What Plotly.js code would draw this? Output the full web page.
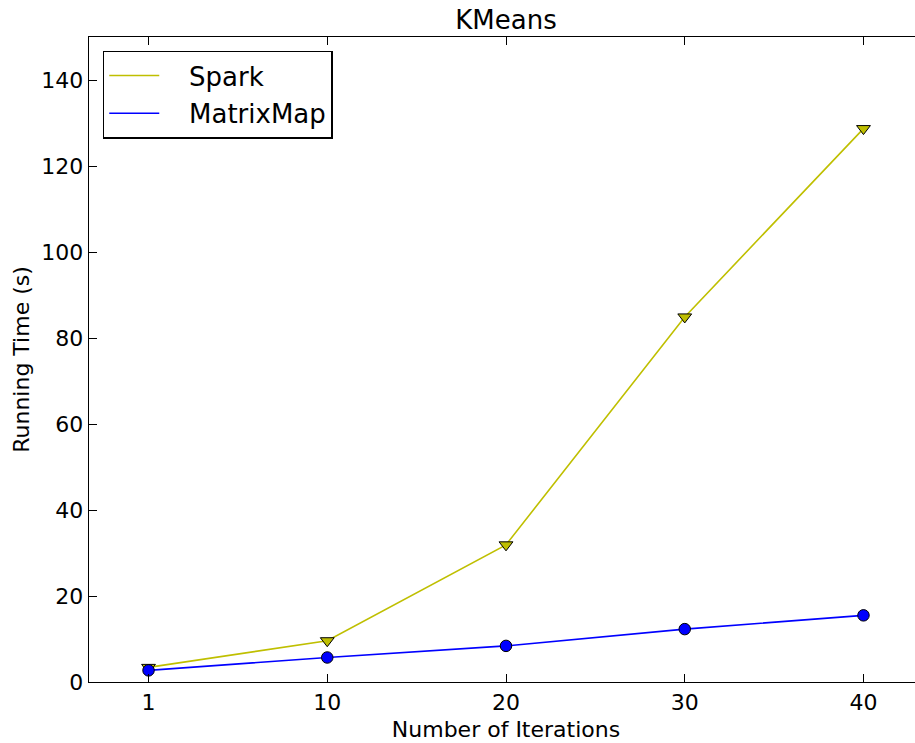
<!DOCTYPE html>
<html>
<head>
<meta charset="utf-8">
<script src="https://cdn.plot.ly/plotly-3.0.1.min.js"></script>
<style>
html,body{margin:0;padding:0;background:#fff;overflow:hidden;width:915px;height:743px;}
#chart{width:925px;height:743px;}
</style>
</head>
<body>
<div id="chart"></div>
<script>
const iterations = ['1', '10', '20', '30', '40'];
const sparkTimes = [3.4, 9.6, 31.9, 84.9, 128.7];
const matrixMapTimes = [2.7, 5.7, 8.4, 12.3, 15.5];
const yTicks = [0, 20, 40, 60, 80, 100, 120, 140];

const FONT = 'DejaVu Sans, sans-serif';
const SPARK_COLOR = '#bfbf00';
const MM_COLOR = '#0000ff';
const PAD = '\u00a0\u00a0\u00a0';

const traces = [
  {x: iterations, y: sparkTimes, type: 'scatter', mode: 'lines+markers', showlegend: false,
   line: {color: SPARK_COLOR, width: 1.6},
   marker: {symbol: 'triangle-down', size: 12, color: SPARK_COLOR, line: {color: '#000', width: 1}}},
  {x: iterations, y: matrixMapTimes, type: 'scatter', mode: 'lines+markers', showlegend: false,
   line: {color: MM_COLOR, width: 1.6},
   marker: {symbol: 'circle', size: 11.5, color: MM_COLOR, line: {color: '#000', width: 1}}},
  {x: [null], y: [null], type: 'scatter', mode: 'lines', name: PAD + 'Spark', legendgroup: 'a',
   line: {color: SPARK_COLOR, width: 1.6}},
  {x: [null], y: [null], type: 'scatter', mode: 'lines', name: PAD + 'MatrixMap', legendgroup: 'b',
   line: {color: MM_COLOR, width: 1.6}}
];

const axisCommon = {
  showline: true, linecolor: '#000', linewidth: 1.3, mirror: 'ticks',
  ticks: 'inside', ticklen: 8, tickwidth: 1, tickcolor: '#000',
  showgrid: false, zeroline: false,
  tickfont: {family: FONT, size: 22, color: '#000'}
};

const layout = {
  width: 925, height: 743,
  margin: {l: 89, r: 2, t: 37, b: 61},
  paper_bgcolor: '#fff', plot_bgcolor: '#fff',
  font: {family: FONT, color: '#000'},
  title: {text: 'KMeans', font: {family: FONT, size: 26, color: '#000'},
          x: 0.5, xref: 'paper', y: 1, yref: 'paper', yanchor: 'bottom', pad: {b: 8}},
  xaxis: Object.assign({}, axisCommon, {
    type: 'category', categoryorder: 'array', categoryarray: iterations,
    range: [-0.333, 4.333],
    title: {text: 'Number of Iterations', font: {family: FONT, size: 22, color: '#000'}, standoff: 8}
  }),
  yaxis: Object.assign({}, axisCommon, {
    range: [0, 150], tickvals: yTicks,
    title: {text: 'Running Time (s)', font: {family: FONT, size: 22, color: '#000'}, standoff: 5}
  }),
  legend: {
    x: 0.0165, y: 0.979, xanchor: 'left', yanchor: 'top',
    bgcolor: '#fff', bordercolor: '#000', borderwidth: 1.5,
    font: {family: FONT, size: 26, color: '#000'},
    traceorder: 'grouped', tracegroupgap: 1,
    itemwidth: 50
  }
};

Plotly.newPlot('chart', traces, layout, {displayModeBar: false, staticPlot: true});
</script>
</body>
</html>
